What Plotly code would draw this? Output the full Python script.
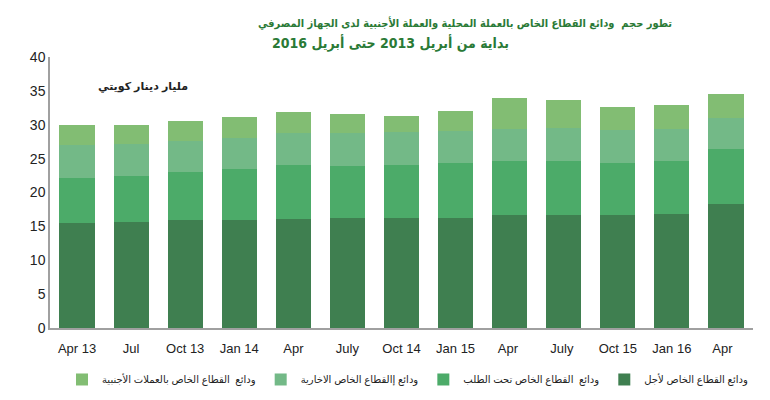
import plotly.graph_objects as go

categories = ["Apr 13", "Jul", "Oct 13", "Jan 14", "Apr", "July", "Oct 14",
              "Jan 15", "Apr ", "July ", "Oct 15", "Jan 16", "Apr  "]
term = [15.5, 15.7, 15.9, 15.9, 16.1, 16.3, 16.3, 16.3, 16.7, 16.7, 16.7, 16.8, 18.3]
demand = [6.6, 6.7, 7.1, 7.5, 7.9, 7.6, 7.7, 8.0, 7.9, 8.0, 7.6, 7.9, 8.1]
savings = [4.9, 4.7, 4.6, 4.6, 4.8, 4.9, 5.0, 4.8, 4.8, 4.8, 4.9, 4.7, 4.6]
foreign = [3.0, 2.9, 2.9, 3.1, 3.1, 2.8, 2.3, 2.9, 4.5, 4.2, 3.4, 3.5, 3.6]

names = ["ودائع القطاع الخاص لأجل",
         "ودائع  القطاع الخاص تحت الطلب",
         "ودائع إالقطاع الخاص الاخارية",
         "ودائع  القطاع الخاص بالعملات الأجنبية"]
colors = ["#3f7f50", "#4cab69", "#73b987", "#82bd73"]
title_line1 = "تطور حجم  ودائع القطاع الخاص بالعملة المحلية والعملة الأجنبية لدى الجهاز المصرفي"
title_line2 = "بداية من أبريل 2013 حتى أبريل 2016"
unit_label = "مليار دينار كويتي"

fig = go.Figure()
for vals, nm, c in zip([term, demand, savings, foreign], names, colors):
    fig.add_trace(go.Bar(x=categories, y=vals, name=nm, marker_color=c,
                         marker_line_width=0))

fig.update_layout(
    width=770, height=400,
    barmode="stack", bargap=0.35,
    plot_bgcolor="white", paper_bgcolor="white",
    margin=dict(l=50, r=17, t=57, b=72, autoexpand=False),
    font=dict(family="Arial, DejaVu Sans, sans-serif", size=13, color="#222"),
    xaxis=dict(showline=True, linecolor="#a0a0a0", linewidth=1.5, ticks="",
               tickfont=dict(size=13), showgrid=False, ticklabelstandoff=8),
    yaxis=dict(range=[0, 40], dtick=5, showline=True, linecolor="#a0a0a0",
               linewidth=1.5, showgrid=False, ticks="", tickfont=dict(size=14)),
    legend=dict(orientation="h", x=1.0, xanchor="right",
                y=-0.19, yanchor="middle", bgcolor="rgba(0,0,0,0)",
                traceorder="reversed", font=dict(size=10), itemwidth=30,
                tracegroupgap=0),
    showlegend=True,
)
fig.add_annotation(text="<b>" + title_line1 + "</b>", xref="paper", yref="paper",
                   x=0.59, y=1.125, xanchor="center", yanchor="middle",
                   showarrow=False,
                   font=dict(size=11, color="#2a7a36",
                             family="DejaVu Sans Condensed, DejaVu Sans, sans-serif"))
fig.add_annotation(text="<b>" + title_line2 + "</b>", xref="paper", yref="paper",
                   x=0.484, y=1.052, xanchor="center", yanchor="middle",
                   showarrow=False,
                   font=dict(size=14, color="#2a7a36",
                             family="DejaVu Sans Condensed, DejaVu Sans, sans-serif"))
fig.add_annotation(text="<b>" + unit_label + "</b>", xref="paper", yref="paper",
                   x=0.132, y=0.922, xanchor="center", showarrow=False,
                   font=dict(size=11, color="#222"))

fig.write_html("out.html")
